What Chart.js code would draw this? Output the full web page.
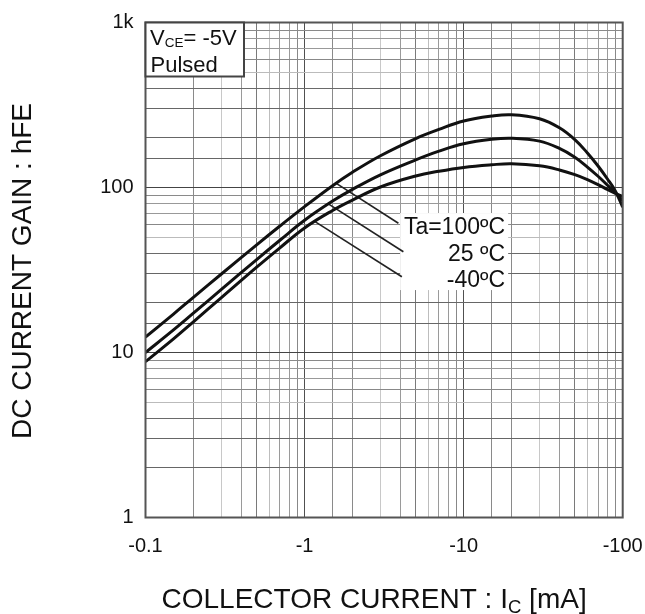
<!DOCTYPE html>
<html><head><meta charset="utf-8">
<script src="https://cdn.jsdelivr.net/npm/chart.js@4.4.1/dist/chart.umd.min.js"></script>
<style>html,body{margin:0;padding:0;background:#fff;}canvas{display:block;}</style>
</head><body>
<canvas id="c" width="645" height="614"></canvas>
<script>
// ---- data (collector current magnitude in mA, DC current gain hFE) ----
const currents = [0.1, 0.15, 0.2, 0.3, 0.5, 0.7, 1, 1.5, 2, 3, 5, 7, 10, 15, 20, 30, 40, 50, 60, 70, 80, 90, 100];
const gain100 = [12.4, 17.1, 21.6, 29.9, 44.9, 58.4, 76.6, 102.6, 123.7, 155.8, 198, 225, 253, 271, 276, 261, 230, 195, 162, 135, 113, 95, 76];
const gain25  = [10.0, 13.7, 17.3, 24.1, 36.6, 47.9, 63.3, 82.7, 97.4, 119.4, 147, 166, 184, 196, 199, 191, 172.5, 152.6, 133, 117, 103.5, 92.6, 83.3];
const gainM40 = [8.8, 12.1, 15.35, 21.5, 32.9, 43.1, 56.9, 72.6, 83.9, 100.7, 117.4, 125.5, 132.4, 137.3, 139.3, 135.4, 127.8, 119.6, 111.6, 104.1, 97.4, 92, 88.1];
const xDecades = [0.1, 1, 10, 100];
const xDecadeLabels = ['-0.1', '-1', '-10', '-100'];
const yDecades = [1, 10, 100, 1000];
const yDecadeLabels = ['1', '10', '100', '1k'];
const seriesLabels = ['Ta=100ºC', '25 ºC', '-40ºC'];

// leader lines from curves to the label box (data coordinates)
const leaderStartI = [1.556, 1.395, 1.164];
const leaderStartH = [107, 80.2, 62.1];
const leaderEndI = [3.89, 4.18, 4.09];
const leaderEndH = [60.7, 40.8, 28.8];

const FONT = "'Liberation Sans', Arial, Helvetica, sans-serif";
const labelBox = {i0: 3.99, i1: 19.05, h0: 70, h1: 23.9, textI: 18.2, rowH: [52.3, 35.9, 24.9]};

function mantissa(v) {
  const e = Math.floor(Math.log10(v) + 1e-9);
  return Math.round(v / Math.pow(10, e));
}
const xGridShade = {1:'#505050',2:'#8a8a8a',3:'#c8c8c8',4:'#9a9a9a',5:'#7a7a7a',6:'#bdbdbd',7:'#9a9a9a',8:'#9a9a9a',9:'#888'};
const yGridShade = {1:'#444',2:'#666',3:'#666',4:'#6a6a6a',5:'#bbb',6:'#888',7:'#999',8:'#999',9:'#8a8a8a'};

function pts(ys) { return currents.map((c, i) => ({x: c, y: ys[i]})); }
function leader(k) { return [{x: leaderStartI[k], y: leaderStartH[k]}, {x: leaderEndI[k], y: leaderEndH[k]}]; }

const curveStyle = {borderColor: '#111', borderWidth: 3, pointRadius: 0, fill: false, tension: 0.4};
const leaderStyle = {borderColor: '#222', borderWidth: 1.6, pointRadius: 0, fill: false, tension: 0};

const decor = {
  id: 'decor',
  beforeDatasetsDraw(chart) {
    const {ctx, scales: {x, y}} = chart;
    ctx.save();
    const bx0 = x.getPixelForValue(labelBox.i0), bx1 = x.getPixelForValue(labelBox.i1);
    const by0 = y.getPixelForValue(labelBox.h0), by1 = y.getPixelForValue(labelBox.h1);
    ctx.fillStyle = '#fff';
    ctx.fillRect(bx0, by0, bx1 - bx0, by1 - by0);
    ctx.restore();
  },
  afterDatasetsDraw(chart) {
    const {ctx, chartArea: a, scales: {x, y}} = chart;
    ctx.save();
    ctx.strokeStyle = '#555';
    ctx.lineWidth = 2;
    ctx.strokeRect(a.left, a.top, a.right - a.left, a.bottom - a.top);
    const lw = 98.5, lh = 54;
    ctx.fillStyle = '#fff';
    ctx.fillRect(a.left, a.top, lw, lh);
    ctx.strokeStyle = '#444';
    ctx.lineWidth = 2;
    ctx.strokeRect(a.left, a.top, lw, lh);
    ctx.fillStyle = '#111';
    ctx.textBaseline = 'alphabetic';
    ctx.textAlign = 'left';
    let tx = a.left + 4.5;
    ctx.font = '22px ' + FONT;
    ctx.fillText('V', tx, a.top + 22.5);
    tx += ctx.measureText('V').width;
    ctx.font = '13.5px ' + FONT;
    ctx.fillText('CE', tx, a.top + 24.5);
    tx += ctx.measureText('CE').width;
    ctx.font = '22px ' + FONT;
    ctx.fillText('= -5V', tx, a.top + 22.5);
    ctx.fillText('Pulsed', a.left + 5, a.top + 49);
    ctx.textAlign = 'right';
    ctx.font = '23px ' + FONT;
    const rx = x.getPixelForValue(labelBox.textI);
    seriesLabels.forEach((t, k) => ctx.fillText(t, rx, y.getPixelForValue(labelBox.rowH[k])));
    ctx.restore();
  },
  afterDraw(chart) {
    const {ctx, chartArea: a} = chart;
    ctx.save();
    ctx.fillStyle = '#111';
    ctx.textBaseline = 'alphabetic';
    const big = '28px ' + FONT, small = '18.5px ' + FONT;
    const p1 = 'COLLECTOR CURRENT : I', p2 = 'C', p3 = ' [mA]';
    ctx.font = big; const w1 = ctx.measureText(p1).width, w3 = ctx.measureText(p3).width;
    ctx.font = small; const w2 = ctx.measureText(p2).width;
    const total = w1 + w2 + w3;
    let sx = (a.left + a.right) / 2 - 10 - total / 2;
    const base = a.bottom + 90;
    ctx.textAlign = 'left';
    ctx.font = big; ctx.fillText(p1, sx, base); sx += w1;
    ctx.font = small; ctx.fillText(p2, sx, base + 5); sx += w2;
    ctx.font = big; ctx.fillText(p3, sx, base);
    ctx.translate(31, (a.top + a.bottom) / 2 + 1);
    ctx.rotate(-Math.PI / 2);
    ctx.textAlign = 'center';
    ctx.font = '28px ' + FONT;
    ctx.fillText('DC CURRENT GAIN : hFE', 0, 0);
    ctx.restore();
  }
};

new Chart(document.getElementById('c'), {
  type: 'line',
  data: {
    datasets: [
      {label: seriesLabels[0], data: pts(gain100), ...curveStyle},
      {label: seriesLabels[1], data: pts(gain25), ...curveStyle},
      {label: seriesLabels[2], data: pts(gainM40), ...curveStyle},
      {label: 'l1', data: leader(0), ...leaderStyle},
      {label: 'l2', data: leader(1), ...leaderStyle},
      {label: 'l3', data: leader(2), ...leaderStyle}
    ]
  },
  options: {
    responsive: false,
    animation: false,
    devicePixelRatio: 1,
    layout: {padding: {top: 22.5, right: 22.3, left: 0, bottom: 0}},
    plugins: {legend: {display: false}, tooltip: {enabled: false}, title: {display: false}},
    scales: {
      x: {
        type: 'logarithmic', min: 0.1, max: 100,
        border: {display: false},
        grid: {drawTicks: false, lineWidth: 1, color: c => xGridShade[mantissa(c.tick.value)] || '#999'},
        ticks: {
          autoSkip: false, maxRotation: 0, padding: 17, color: '#111',
          font: {family: FONT, size: 20, lineHeight: 1.2},
          callback: v => { const i = xDecades.findIndex(d => Math.abs(d - v) / d < 1e-6); return i >= 0 ? xDecadeLabels[i] : ''; }
        },
        afterFit: s => { s.height = 96.5; s.paddingLeft = 0; s.paddingRight = 0; }
      },
      y: {
        type: 'logarithmic', min: 1, max: 1000,
        border: {display: false},
        grid: {drawTicks: false, lineWidth: 1, color: c => yGridShade[mantissa(c.tick.value)] || '#999'},
        ticks: {
          autoSkip: false, padding: 12, color: '#111',
          font: {family: FONT, size: 20, lineHeight: 1.2},
          callback: v => { const i = yDecades.findIndex(d => Math.abs(d - v) / d < 1e-6); return i >= 0 ? yDecadeLabels[i] : ''; }
        },
        afterFit: s => { s.width = 145.5; s.paddingTop = 0; s.paddingBottom = 0; }
      }
    }
  },
  plugins: [decor]
});
</script>
</body></html>
